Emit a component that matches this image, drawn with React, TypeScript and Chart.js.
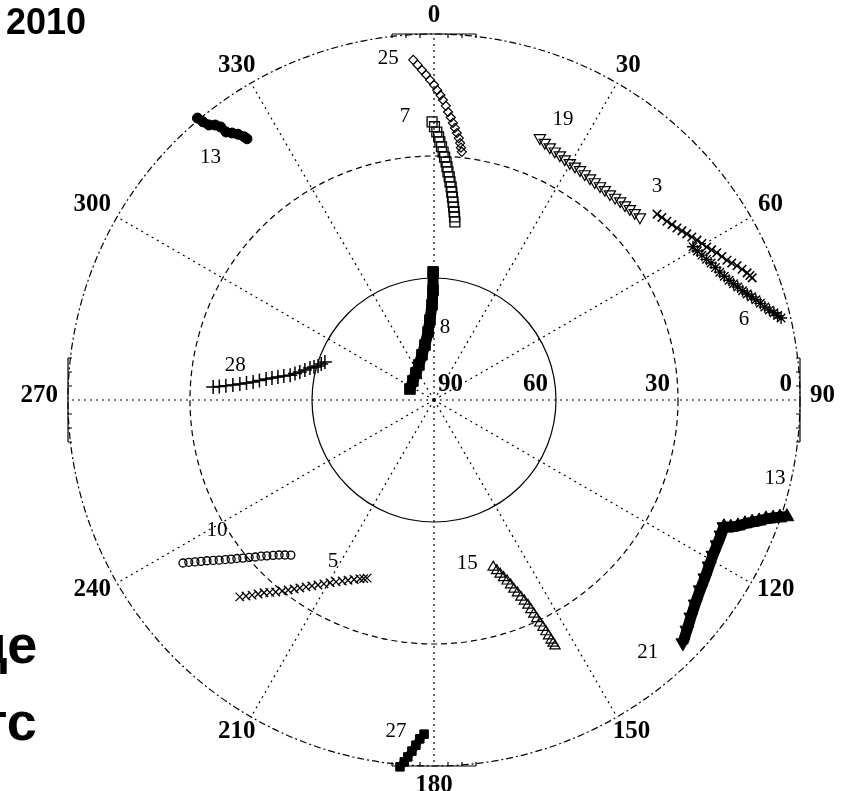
import React, { useEffect, useRef } from "react";
import { Chart, registerables } from "chart.js";

Chart.register(...registerables);

// ---------- axis / tick values ----------
const AZIMUTH_TICKS = [0, 30, 60, 90, 120, 150, 180, 210, 240, 270, 300, 330];
const ELEVATION_RINGS = [0, 30, 60];
const ELEVATION_TICKS = [90, 60, 30, 0];

// ---------- satellite tracks (azimuth deg, elevation deg) ----------
const SAT_NAMES = ["25", "7", "19", "3", "6", "13", "8", "28", "10", "5", "15", "21", "13", "27"];

const SAT25_AZ = [356.5, 357.2, 357.9, 358.6, 359.3, 0.0, 0.6, 1.2, 1.7, 2.3, 2.8, 3.4, 3.9, 4.4, 4.9, 5.4, 5.8, 6.1, 6.4];
const SAT25_EL = [6.2, 7.5, 8.8, 10.0, 11.3, 12.5, 13.8, 15.0, 16.2, 17.6, 19.1, 20.4, 21.7, 22.9, 24.1, 25.3, 26.5, 27.6, 28.6];

const SAT7_AZ = [359.6, 0.1, 0.6, 1.0, 1.3, 1.7, 2.1, 2.5, 2.9, 3.2, 3.5, 3.9, 4.2, 4.6, 4.9, 5.2, 5.5, 5.8, 6.1, 6.4, 6.7];
const SAT7_EL = [21.6, 22.8, 24.1, 25.3, 26.5, 27.7, 29.0, 30.2, 31.4, 32.6, 33.8, 35.0, 36.2, 37.4, 38.7, 39.9, 41.1, 42.3, 43.5, 44.7, 45.9];

const SAT19_AZ = [22.0, 23.3, 24.6, 25.9, 27.2, 28.5, 29.8, 31.1, 32.4, 33.7, 35.1, 36.4, 37.8, 39.1, 40.5, 41.8, 43.1, 44.4, 45.7, 47.0, 48.4];
const SAT19_EL = [20.5, 21.1, 21.6, 22.0, 22.3, 22.6, 22.8, 22.9, 23.0, 23.2, 23.3, 23.4, 23.4, 23.4, 23.4, 23.2, 23.0, 22.9, 22.7, 22.5, 22.3];

const SAT3_AZ = [50.2, 51.3, 52.5, 53.6, 54.7, 55.7, 56.7, 57.7, 58.7, 59.7, 60.7, 61.6, 62.5, 63.5, 64.5, 65.3, 66.1, 67.0, 67.9, 68.5, 69.0];
const SAT3_EL = [18.6, 18.2, 17.8, 17.3, 16.8, 16.2, 15.6, 15.0, 14.3, 13.7, 13.1, 12.4, 11.6, 10.9, 10.2, 9.4, 8.5, 7.7, 6.9, 6.5, 6.2];

const SAT6_AZ = [59.4, 60.5, 61.6, 62.7, 63.7, 64.8, 65.9, 66.9, 67.9, 68.8, 69.6, 70.5, 71.3, 72.0, 72.7, 73.5, 74.3, 75.0, 75.6, 76.2, 76.7];
const SAT6_EL = [16.0, 15.6, 15.1, 14.6, 14.0, 13.5, 13.0, 12.4, 11.7, 11.0, 10.3, 9.5, 8.7, 7.9, 7.1, 6.3, 5.5, 4.6, 3.7, 3.0, 2.3];

const SAT13A_AZ = [320.0, 320.3, 320.7, 321.5, 322.0, 322.2, 322.9, 323.6, 324.2, 324.4];
const SAT13A_EL = [-0.5, 1.1, 2.6, 3.6, 4.8, 6.6, 7.7, 8.8, 10.2, 11.0];

const SAT8_AZ = [359.6, 359.5, 358.8, 357.1, 355.0, 350.7, 345.1, 336.8, 326.3, 312.1, 294.6];
const SAT8_EL = [58.5, 63.0, 66.6, 70.3, 73.2, 76.3, 78.5, 80.6, 82.0, 83.0, 83.5];

const SAT28_AZ = [273.4, 273.6, 273.9, 274.3, 274.7, 275.2, 275.7, 276.4, 277.1, 277.7, 278.4, 279.1, 279.8, 280.8, 281.8, 283.1, 284.5, 285.4, 286.3, 287.7, 289.2];
const SAT28_EL = [35.6, 37.1, 38.7, 40.4, 42.1, 43.7, 45.3, 46.8, 48.4, 49.8, 51.2, 52.6, 54.1, 55.2, 56.3, 57.4, 58.5, 59.4, 60.3, 60.9, 61.6];

const SAT10_AZ = [237.0, 236.5, 235.9, 235.3, 234.7, 234.0, 233.3, 232.6, 231.9, 231.2, 230.4, 229.6, 228.7, 227.9, 227.0, 226.0, 225.0, 223.9, 222.7];
const SAT10_EL = [16.4, 17.7, 19.0, 20.3, 21.6, 22.9, 24.1, 25.4, 26.6, 27.8, 29.0, 30.3, 31.5, 32.7, 33.8, 35.0, 36.1, 37.1, 38.1];

const SAT5_AZ = [224.6, 223.8, 223.0, 222.2, 221.4, 220.5, 219.5, 218.5, 217.5, 216.5, 215.5, 214.4, 213.3, 212.1, 210.9, 209.6, 208.3, 206.9, 205.5, 204.0, 202.5, 201.5, 200.6];
const SAT5_EL = [22.0, 23.2, 24.4, 25.6, 26.8, 27.8, 28.8, 30.0, 31.1, 32.2, 33.2, 34.3, 35.3, 36.3, 37.3, 38.3, 39.2, 40.1, 40.9, 41.7, 42.4, 42.8, 43.2];

const SAT15_AZ = [160.5, 159.8, 159.2, 158.6, 158.0, 157.5, 157.1, 156.6, 156.2, 155.8, 155.4, 155.2, 155.0, 154.8, 154.6, 154.4, 154.2, 154.1, 154.0, 153.9, 153.8];
const SAT15_EL = [46.4, 45.3, 44.2, 43.1, 42.0, 40.8, 39.5, 38.3, 37.0, 35.8, 34.5, 33.2, 31.9, 30.6, 29.3, 28.0, 26.7, 25.5, 24.3, 23.4, 22.6];

const SAT21_AZ = [134.3, 132.3, 130.2, 128.0, 125.5, 123.3, 121.1, 119.1, 117.1, 115.2, 113.6];
const SAT21_EL = [4.5, 5.9, 7.3, 8.5, 9.6, 10.3, 11.0, 11.5, 11.8, 12.0, 12.2];

const SAT13B_AZ = [113.6, 113.2, 112.5, 111.7, 111.0, 110.4, 109.7, 109.2, 108.7, 108.3];
const SAT13B_EL = [12.2, 10.6, 9.1, 7.7, 6.2, 4.7, 3.3, 1.7, 0.2, -1.4];

const SAT27_AZ = [181.7, 182.4, 183.0, 183.6, 184.2, 184.7, 185.3];
const SAT27_EL = [7.8, 6.6, 5.0, 3.5, 2.0, 0.7, -0.6];

const TRACKS_AZ = [SAT25_AZ, SAT7_AZ, SAT19_AZ, SAT3_AZ, SAT6_AZ, SAT13A_AZ, SAT8_AZ, SAT28_AZ, SAT10_AZ, SAT5_AZ, SAT15_AZ, SAT21_AZ, SAT13B_AZ, SAT27_AZ];
const TRACKS_EL = [SAT25_EL, SAT7_EL, SAT19_EL, SAT3_EL, SAT6_EL, SAT13A_EL, SAT8_EL, SAT28_EL, SAT10_EL, SAT5_EL, SAT15_EL, SAT21_EL, SAT13B_EL, SAT27_EL];

// ---------- styles (marker + label placement relative to a track end) ----------
type Style = {
  pointStyle: string; radius: number; rotation?: number; filled: boolean;
  border: number; line?: number; labelAt: "first" | "last"; ldx: number; ldy: number;
};
const STYLES: Style[] = [
  { pointStyle: "rectRot", radius: 4.5, filled: false, border: 1.2, labelAt: "first", ldx: -25, ldy: -1 },
  { pointStyle: "rect", radius: 7, filled: false, border: 1.3, labelAt: "first", ldx: -27, ldy: -5 },
  { pointStyle: "triangle", radius: 6.5, rotation: 180, filled: false, border: 1.2, labelAt: "first", ldx: 23, ldy: -18 },
  { pointStyle: "crossRot", radius: 6, filled: false, border: 1.6, labelAt: "first", ldx: 0, ldy: -28 },
  { pointStyle: "star", radius: 6, filled: false, border: 1.4, labelAt: "last", ldx: -37, ldy: 2 },
  { pointStyle: "circle", radius: 5, filled: true, border: 1, line: 9, labelAt: "first", ldx: 13, ldy: 39 },
  { pointStyle: "rect", radius: 7.5, filled: true, border: 1, line: 11, labelAt: "first", ldx: 12, ldy: 56 },
  { pointStyle: "cross", radius: 7, filled: false, border: 1.5, line: 1.5, labelAt: "first", ldx: 22, ldy: -21 },
  { pointStyle: "circle", radius: 4, filled: false, border: 1.3, labelAt: "first", ldx: 34, ldy: -33 },
  { pointStyle: "crossRot", radius: 6, filled: false, border: 1.3, labelAt: "last", ldx: -34, ldy: -17 },
  { pointStyle: "triangle", radius: 6, filled: false, border: 1.2, labelAt: "first", ldx: -26, ldy: -4 },
  { pointStyle: "triangle", radius: 8, rotation: 180, filled: true, border: 1, line: 11, labelAt: "first", ldx: -35, ldy: 10 },
  { pointStyle: "triangle", radius: 8, filled: true, border: 1, line: 11, labelAt: "last", ldx: -12, ldy: -38 },
  { pointStyle: "rect", radius: 6, filled: true, border: 1, line: 8, labelAt: "first", ldx: -28, ldy: -3 },
];

const toXY = (az: number, el: number) => {
  const r = 90 - el;
  const a = (az * Math.PI) / 180;
  return { x: r * Math.sin(a), y: r * Math.cos(a) };
};

const SERIF = '"Liberation Serif", "Times New Roman", serif';

const polarPlugin = {
  id: "polarGrid",
  beforeDatasetsDraw(chart: any) {
    const { ctx } = chart;
    const xs = chart.scales.x;
    const ys = chart.scales.y;
    const cx = xs.getPixelForValue(0);
    const cy = ys.getPixelForValue(0);
    const rad = (el: number) => xs.getPixelForValue(90 - el) - cx;
    const R = rad(0);
    ctx.save();
    ctx.strokeStyle = "#000";
    // spokes
    ctx.lineWidth = 1.2;
    ctx.setLineDash([2, 4]);
    AZIMUTH_TICKS.forEach((az) => {
      const a = (az * Math.PI) / 180;
      ctx.beginPath();
      ctx.moveTo(cx, cy);
      ctx.lineTo(cx + R * Math.sin(a), cy - R * Math.cos(a));
      ctx.stroke();
    });
    // rings
    ELEVATION_RINGS.forEach((el) => {
      ctx.setLineDash(el === 0 ? [7, 3, 2, 3] : el === 30 ? [6, 4] : []);
      ctx.lineWidth = 1.2;
      ctx.beginPath();
      ctx.arc(cx, cy, rad(el), 0, Math.PI * 2);
      ctx.stroke();
    });
    // cardinal tick segments
    ctx.setLineDash([]);
    ctx.lineWidth = 1.2;
    [0, 90, 180, 270].forEach((az) => {
      const a = (az * Math.PI) / 180;
      const dx = Math.sin(a), dy = -Math.cos(a);
      const tx = Math.cos(a), ty = Math.sin(a);
      const px = cx + R * dx, py = cy + R * dy;
      ctx.beginPath();
      ctx.moveTo(px - 42 * tx, py - 42 * ty);
      ctx.lineTo(px + 42 * tx, py + 42 * ty);
      [-42, -28, -14, 14, 28, 42].forEach((s) => {
        ctx.moveTo(px + s * tx, py + s * ty);
        ctx.lineTo(px + s * tx - 4 * dx, py + s * ty - 4 * dy);
      });
      ctx.stroke();
    });
    ctx.restore();
  },
  afterDatasetsDraw(chart: any) {
    const { ctx } = chart;
    const xs = chart.scales.x;
    const ys = chart.scales.y;
    const cx = xs.getPixelForValue(0);
    const cy = ys.getPixelForValue(0);
    const rad = (el: number) => xs.getPixelForValue(90 - el) - cx;
    const R = rad(0);
    ctx.save();
    ctx.fillStyle = "#000";
    // azimuth labels
    ctx.font = `bold 25px ${SERIF}`;
    ctx.textAlign = "center";
    ctx.textBaseline = "middle";
    AZIMUTH_TICKS.forEach((az) => {
      const a = (az * Math.PI) / 180;
      const s = Math.sin(a), c = Math.cos(a);
      const t = String(az);
      const hw = ctx.measureText(t).width / 2;
      const hh = 9;
      const x = cx + s * (R + 10) + s * hw;
      const y = cy - c * (R + 10) - c * hh - Math.abs(s) * 5;
      ctx.fillText(t, x, y + 1);
    });
    // elevation labels along the east axis
    ctx.textBaseline = "alphabetic";
    ELEVATION_TICKS.forEach((el) => {
      const x = cx + rad(el);
      if (el === 90) {
        ctx.textAlign = "left";
        ctx.fillText(String(el), x + 4, cy - 9);
      } else {
        ctx.textAlign = "right";
        ctx.fillText(String(el), x - 8, cy - 9);
      }
    });
    // satellite labels
    ctx.font = `21px ${SERIF}`;
    ctx.textAlign = "center";
    ctx.textBaseline = "middle";
    chart.data.datasets.forEach((ds: any, i: number) => {
      const st = STYLES[i];
      const pt = st.labelAt === "first" ? ds.data[0] : ds.data[ds.data.length - 1];
      const px = xs.getPixelForValue(pt.x);
      const py = ys.getPixelForValue(pt.y);
      ctx.fillText(SAT_NAMES[i], px + st.ldx, py + st.ldy);
    });
    ctx.restore();
  },
};

export default function App() {
  const ref = useRef<HTMLCanvasElement>(null);
  useEffect(() => {
    if (!ref.current) return;
    const datasets = TRACKS_AZ.map((azs, i) => {
      const st = STYLES[i];
      return {
        label: SAT_NAMES[i],
        data: azs.map((az, k) => toXY(az, TRACKS_EL[i][k])),
        pointStyle: st.pointStyle,
        pointRadius: st.radius,
        pointRotation: st.rotation || 0,
        pointBackgroundColor: st.filled ? "#000" : "rgba(0,0,0,0)",
        pointBorderColor: "#000",
        pointBorderWidth: st.border,
        showLine: !!st.line,
        borderColor: "#000",
        borderWidth: st.line || 0,
        tension: 0,
        clip: false as any,
      };
    });
    const chart = new Chart(ref.current, {
      type: "scatter",
      data: { datasets: datasets as any },
      options: {
        responsive: false,
        animation: false,
        devicePixelRatio: 1,
        layout: { padding: { left: 68, right: 48, top: 34, bottom: 25 } },
        plugins: { legend: { display: false }, tooltip: { enabled: false } },
        scales: {
          x: { type: "linear", min: -90, max: 90, display: false },
          y: { type: "linear", min: -90, max: 90, display: false },
        },
      },
      plugins: [polarPlugin],
    });
    return () => chart.destroy();
  }, []);

  const sans = '"Liberation Sans", Arial, sans-serif';
  return (
    <div style={{ position: "absolute", left: 0, top: 0, width: 848, height: 791, overflow: "hidden", background: "#fff" }}>
      <canvas ref={ref} width={848} height={791} style={{ position: "absolute", left: 0, top: 0 }} />
      <div style={{ position: "absolute", left: 6, top: 4, font: `bold 36px ${sans}`, lineHeight: 1 }}>2010</div>
      <div style={{ position: "absolute", left: -26, top: 617, font: `bold 54px ${sans}`, lineHeight: 1, whiteSpace: "nowrap" }}>це</div>
      <div style={{ position: "absolute", left: -19, top: 694, font: `bold 54px ${sans}`, lineHeight: 1, whiteSpace: "nowrap" }}>тс</div>
    </div>
  );
}
